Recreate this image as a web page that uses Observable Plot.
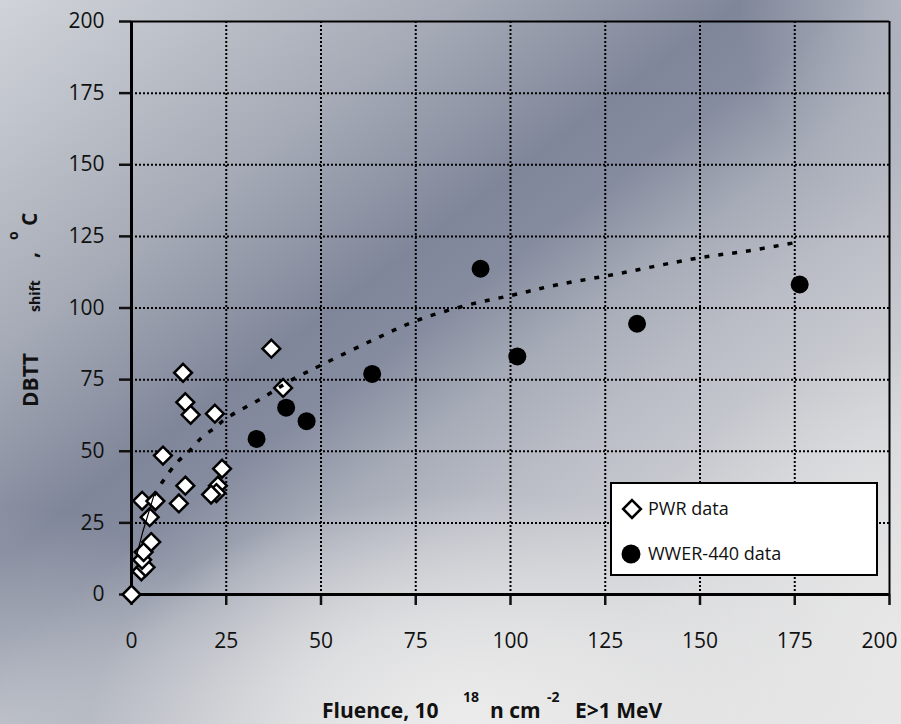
<!DOCTYPE html>
<html><head><meta charset="utf-8">
<script src="https://cdn.jsdelivr.net/npm/d3@7"></script>
<script src="https://cdn.jsdelivr.net/npm/@observablehq/plot@0.6"></script>
<style>
html,body{margin:0;padding:0;}
body{width:901px;height:724px;overflow:hidden;position:relative;
background:
 radial-gradient(ellipse 42% 32% at 52% 100%, rgba(236,236,236,1) 0%, rgba(232,232,232,0.75) 45%, rgba(232,232,232,0) 100%),
 radial-gradient(ellipse 30% 40% at 100% 88%, rgba(232,232,232,0.85) 0%, rgba(232,232,232,0) 100%),
 radial-gradient(ellipse 28% 30% at 0% 100%, rgba(196,199,206,0.8) 0%, rgba(196,199,206,0) 100%),
 radial-gradient(ellipse 18% 28% at 100% 0%, rgba(186,190,199,0.75) 0%, rgba(186,190,199,0) 100%),
 linear-gradient(143deg, #d0d3d9 0%, #bcc0c8 12%, #a5aab6 25%, #8f95a5 34%, #7f8699 40%, #868c9f 46%, #a6abb7 54%, #b9bcc5 62%, #d6d7da 80%, #e6e6e6 100%);
}
#chart{position:absolute;left:0;top:0;}
</style></head><body><div id="chart"></div>
<script>
// PWR data (diamonds)
const pwrX = [0, 2.6, 3.7, 2.8, 3.2, 5.2, 4.8, 2.8, 6.3, 8.3, 12.5, 14.2, 13.6, 14.2, 15.6, 22.0, 23.9, 22.8, 22.4, 21.0, 36.9, 40.0];
const pwrY = [0, 8.1, 9.5, 12.1, 14.8, 18.3, 27, 32.7, 32.6, 48.5, 31.8, 38, 77.4, 67.1, 62.7, 63.1, 43.9, 38, 35.4, 34.9, 85.8, 72.1];
// WWER-440 data (filled circles)
const wwerX = [33.0, 40.8, 46.2, 63.5, 92.1, 101.8, 133.4, 176.3];
const wwerY = [54.3, 65.2, 60.5, 77.0, 113.7, 83.1, 94.5, 108.2];
// Trend line
const trendX = [1.3, 3.0, 5.9, 8.5, 12.1, 15.4, 18.6, 22.2, 24.8, 34.9, 42, 50.7, 64, 75.2, 88, 100.2, 112, 126.5, 149.3, 163, 174.6];
const trendY = [13.3, 22, 34.5, 40, 46.2, 50.3, 54.9, 58.4, 61.3, 68.9, 74.7, 80.5, 89, 95.6, 100.8, 104.4, 108, 111.5, 117.4, 120, 122.7];
const xTicks = [0, 25, 50, 75, 100, 125, 150, 175, 200];
const yTicks = [0, 25, 50, 75, 100, 125, 150, 175, 200];
const gridTicks = [25, 50, 75, 100, 125, 150, 175];
const legendLabels = ["PWR data", "WWER-440 data"];

const pwr = pwrX.map((x, i) => ({x, y: pwrY[i]}));
const wwer = wwerX.map((x, i) => ({x, y: wwerY[i]}));
const trend = trendX.map((x, i) => ({x, y: trendY[i]}));
const trendSolid = trend.filter(d => d.x <= 5.9);
const trendDash = trend.filter(d => d.x >= 5.9);
const lastX = xTicks[xTicks.length - 1];

const font = "'Open Sans', sans-serif";
const plot = Plot.plot({
  width: 901, height: 724,
  marginLeft: 131, marginRight: 12, marginTop: 21, marginBottom: 130,
  style: {background: "transparent", fontFamily: font, fontSize: "21px", color: "#111", overflow: "visible"},
  x: {domain: [0, 200]},
  y: {domain: [0, 200]},
  marks: [
    Plot.gridX(gridTicks, {stroke: "#000", strokeOpacity: 1, strokeWidth: 2, strokeDasharray: "2,2", strokeLinecap: "butt"}),
    Plot.gridY(gridTicks, {stroke: "#000", strokeOpacity: 1, strokeWidth: 2, strokeDasharray: "2,2", strokeLinecap: "butt"}),
    Plot.ruleX([200], {stroke: "#000", strokeWidth: 2}),
    Plot.ruleY([200], {stroke: "#000", strokeWidth: 2}),
    Plot.axisX(xTicks, {tickSize: 11, tickPadding: 28, strokeWidth: 2.5, fontSize: 21, label: null, tickFormat: d => d === lastX ? "" : String(d)}),
    Plot.axisX([lastX], {tickSize: 0, tickPadding: 39, dx: -10, fontSize: 21, label: null, tickFormat: d => String(d)}),
    Plot.axisY(yTicks, {tickSize: 12, tickPadding: 15, strokeWidth: 2.5, fontSize: 21, label: null, tickFormat: d => String(d)}),
    Plot.ruleX([0], {stroke: "#000", strokeWidth: 3}),
    Plot.ruleY([0], {stroke: "#000", strokeWidth: 3}),
    Plot.dot(wwer, {x: "x", y: "y", r: 9, fill: "#000", stroke: "none"}),
    Plot.dot(pwr, {x: "x", y: "y", symbol: "diamond2", r: 8, fill: "#fff", stroke: "#000", strokeWidth: 2.5}),
    Plot.line(trendSolid, {x: "x", y: "y", stroke: "#000", strokeWidth: 1.2}),
    Plot.line(trendDash, {x: "x", y: "y", stroke: "#000", strokeWidth: 3.5, strokeDasharray: "5,9", strokeLinecap: "butt", strokeLinejoin: "miter", curve: "catmull-rom"})
  ]
});
document.getElementById("chart").appendChild(plot);

const svg = d3.select(plot);
// X axis title
const xt = svg.append("g").attr("font-family", font).attr("font-weight", "bold").attr("fill", "#111").attr("text-anchor", "start");
xt.append("text").attr("x", 322).attr("y", 718).attr("font-size", 21).text("Fluence, 10");
xt.append("text").attr("x", 463).attr("y", 702).attr("font-size", 14).text("18");
xt.append("text").attr("x", 490).attr("y", 718).attr("font-size", 21).text("n cm");
xt.append("text").attr("x", 547).attr("y", 702).attr("font-size", 14).text("-2");
xt.append("text").attr("x", 575).attr("y", 718).attr("font-size", 21).text("E>1 MeV");
// Y axis title
const yt = svg.append("g").attr("font-family", font).attr("font-weight", "bold").attr("fill", "#111").attr("text-anchor", "start");
yt.append("text").attr("transform", "translate(38,407) rotate(-90)").attr("font-size", 21).text("DBTT");
yt.append("text").attr("transform", "translate(40,312) rotate(-90)").attr("font-size", 14).text("shift");
yt.append("text").attr("transform", "translate(37,258) rotate(-90)").attr("font-size", 21).text(",");
yt.append("text").attr("transform", "translate(18,240) rotate(-90)").attr("font-size", 14).text("o");
yt.append("text").attr("transform", "translate(37,226) rotate(-90)").attr("font-size", 21).text("C");
// Legend
const lg = svg.append("g").attr("text-anchor", "start");
lg.append("rect").attr("x", 611).attr("y", 483).attr("width", 266).attr("height", 92)
  .attr("fill", "#fff").attr("stroke", "#000").attr("stroke-width", 2);
lg.append("path").attr("d", d3.symbol(d3.symbolDiamond2, Math.PI * 64)())
  .attr("transform", "translate(632,509)").attr("fill", "#fff").attr("stroke", "#000").attr("stroke-width", 2.5);
lg.append("circle").attr("cx", 631).attr("cy", 554).attr("r", 9.5).attr("fill", "#000");
lg.append("text").attr("x", 648).attr("y", 509).attr("dy", "0.35em").attr("font-family", font).attr("font-size", 18).attr("fill", "#111").text(legendLabels[0]);
lg.append("text").attr("x", 648).attr("y", 554).attr("dy", "0.35em").attr("font-family", font).attr("font-size", 18).attr("fill", "#111").text(legendLabels[1]);
</script>
</body></html>
